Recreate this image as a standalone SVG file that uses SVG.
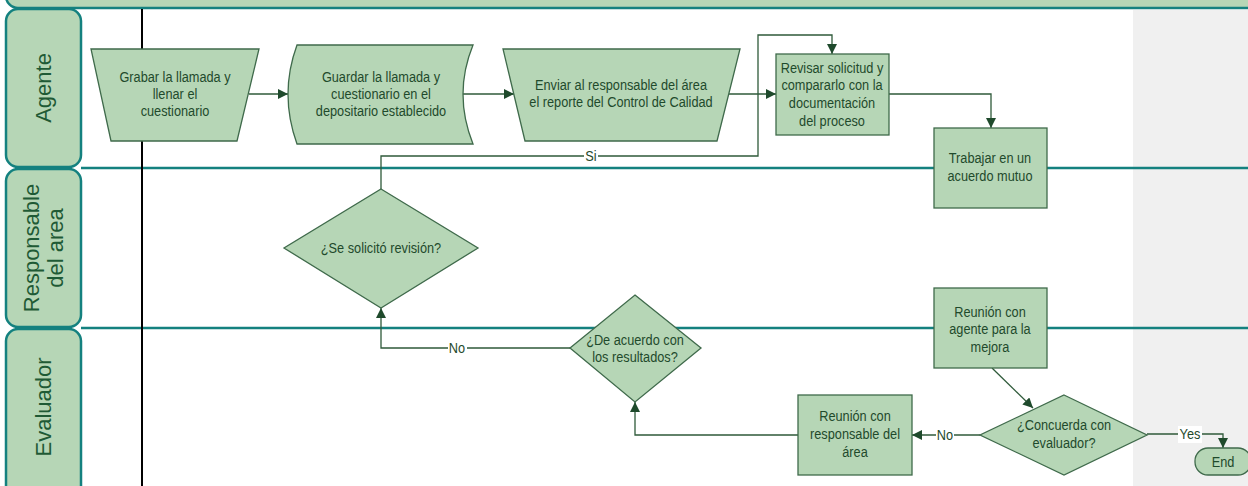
<svg xmlns="http://www.w3.org/2000/svg" width="1248" height="486" viewBox="0 0 1248 486">
<defs>
<style>
.lane{fill:#b6d6b6;stroke:#14817f;stroke-width:2.5}
.lline{stroke:#14817f;stroke-width:2.5;fill:none}
.lt{font-family:"Liberation Sans",Arial,sans-serif;font-size:22px;fill:#1f5a35;text-anchor:middle}
.nd{fill:#b6d6b6;stroke:#3f6a4b;stroke-width:1.3}
.t{font-family:"Liberation Sans",Arial,sans-serif;font-size:15px;fill:#1f4a2c;text-anchor:middle}
.c{fill:none;stroke:#2f5a3a;stroke-width:1.3}
.lb{font-family:"Liberation Sans",Arial,sans-serif;font-size:15px;fill:#1f4a2c;text-anchor:middle}
</style>
<marker id="ah" viewBox="0 0 10 10" refX="10" refY="5" markerWidth="10" markerHeight="10" markerUnits="userSpaceOnUse" orient="auto">
<path d="M0,0 L10,5 L0,10 Z" fill="#1f4a2c"/>
</marker>
</defs>
<rect x="0" y="0" width="1248" height="486" fill="#ffffff"/>
<rect x="1133" y="10" width="115" height="476" fill="#f0f0f0"/>
<g id="lanes">
<rect class="lane" x="6" y="-30" width="1260" height="38" rx="12"/>
<line class="lline" x1="81" y1="168" x2="1248" y2="168"/>
<line class="lline" x1="81" y1="328" x2="1248" y2="328"/>
<rect class="lane" x="6" y="9" width="75" height="158" rx="12"/>
<rect class="lane" x="6" y="169" width="75" height="158" rx="12"/>
<rect class="lane" x="6" y="329" width="75" height="180" rx="12"/>
<text class="lt" transform="translate(51,88) rotate(-90)">Agente</text>
<text class="lt" transform="translate(39,248) rotate(-90)">Responsable</text>
<text class="lt" transform="translate(63,248) rotate(-90)">del area</text>
<text class="lt" transform="translate(51,407) rotate(-90)">Evaluador</text>
<line x1="142" y1="9" x2="142" y2="486" stroke="#000" stroke-width="2"/>
</g>
<g id="connectors">
<line class="c" x1="249" y1="94" x2="288" y2="94" marker-end="url(#ah)"/>
<line class="c" x1="463" y1="94" x2="514" y2="94" marker-end="url(#ah)"/>
<line class="c" x1="729" y1="94" x2="776" y2="94" marker-end="url(#ah)"/>
<polyline class="c" points="381,189 381,156 758,156 758,35 832,35 832,54" marker-end="url(#ah)"/>
<polyline class="c" points="889,94 991,94 991,128" marker-end="url(#ah)"/>
<polyline class="c" points="570,348 381,348 381,308" marker-end="url(#ah)"/>
<polyline class="c" points="798,435 635,435 635,402" marker-end="url(#ah)"/>
<line class="c" x1="992" y1="368" x2="1033" y2="408" marker-end="url(#ah)"/>
<line class="c" x1="980" y1="435" x2="912" y2="435" marker-end="url(#ah)"/>
<polyline class="c" points="1147,434 1223,434 1223,448" marker-end="url(#ah)"/>
<rect x="584" y="148" width="14" height="16" fill="#fff"/>
<text class="lb" x="591" y="161" transform="matrix(0.85 0 0 1 88.65 0)">Si</text>
<rect x="448" y="340" width="19" height="16" fill="#fff"/>
<text class="lb" x="457" y="353" transform="matrix(0.85 0 0 1 68.55 0)">No</text>
<rect x="936" y="427" width="18" height="16" fill="#fff"/>
<text class="lb" x="945" y="440" transform="matrix(0.85 0 0 1 141.75 0)">No</text>
<rect x="1178" y="426" width="24" height="17" fill="#fff"/>
<text class="lb" x="1190" y="439" transform="matrix(0.85 0 0 1 178.5 0)">Yes</text>
</g>
<g id="n1">
<polygon class="nd" points="91,49 259,49 237,141 111,141"/>
<g transform="matrix(0.85 0 0 1 26.25 0)">
<text class="t" x="175" y="82">Grabar la llamada y</text>
<text class="t" x="175" y="99">llenar el</text>
<text class="t" x="175" y="116">cuestionario</text>
</g>
</g>
<g id="n2">
<path class="nd" d="M297,45 L473,45 Q453,94 473,144 L297,144 Q279,94 297,45 Z"/>
<g transform="matrix(0.85 0 0 1 57.15 0)">
<text class="t" x="381" y="82">Guardar la llamada y</text>
<text class="t" x="381" y="99">cuestionario en el</text>
<text class="t" x="381" y="116">depositario establecido</text>
</g>
</g>
<g id="n3">
<polygon class="nd" points="503,49 740,49 717,141 525,141"/>
<g transform="matrix(0.85 0 0 1 93.15 0)">
<text class="t" x="621" y="90">Enviar al responsable del área</text>
<text class="t" x="621" y="107">el reporte del Control de Calidad</text>
</g>
</g>
<g id="n4">
<rect class="nd" x="776" y="54" width="113" height="81"/>
<g transform="matrix(0.85 0 0 1 124.8 0)">
<text class="t" x="832" y="73">Revisar solicitud y</text>
<text class="t" x="832" y="90">compararlo con la</text>
<text class="t" x="832" y="108">documentación</text>
<text class="t" x="832" y="126">del proceso</text>
</g>
</g>
<g id="n5">
<rect class="nd" x="934" y="128" width="113" height="80"/>
<g transform="matrix(0.85 0 0 1 148.5 0)">
<text class="t" x="990" y="163">Trabajar en un</text>
<text class="t" x="990" y="181">acuerdo mutuo</text>
</g>
</g>
<g id="n6">
<polygon class="nd" points="381,189 478,248 381,308 284,248"/>
<g transform="matrix(0.85 0 0 1 57.15 0)">
<text class="t" x="381" y="253">¿Se solicitó revisión?</text>
</g>
</g>
<g id="n7">
<polygon class="nd" points="635,295 701,348 635,402 570,348"/>
<g transform="matrix(0.85 0 0 1 95.25 0)">
<text class="t" x="635" y="345">¿De acuerdo con</text>
<text class="t" x="635" y="362">los resultados?</text>
</g>
</g>
<g id="n8">
<rect class="nd" x="934" y="288" width="113" height="80"/>
<g transform="matrix(0.85 0 0 1 148.5 0)">
<text class="t" x="990" y="317">Reunión con</text>
<text class="t" x="990" y="334">agente para la</text>
<text class="t" x="990" y="352">mejora</text>
</g>
</g>
<g id="n9">
<polygon class="nd" points="1064,395 1147,435 1064,475 980,435"/>
<g transform="matrix(0.85 0 0 1 159.6 0)">
<text class="t" x="1064" y="430">¿Concuerda con</text>
<text class="t" x="1064" y="448">evaluador?</text>
</g>
</g>
<g id="n10">
<rect class="nd" x="798" y="395" width="114" height="80"/>
<g transform="matrix(0.85 0 0 1 128.25 0)">
<text class="t" x="855" y="421">Reunión con</text>
<text class="t" x="855" y="439">responsable del</text>
<text class="t" x="855" y="457">área</text>
</g>
</g>
<g id="n11">
<rect class="nd" x="1195" y="448" width="56" height="27" rx="13"/>
<g transform="matrix(0.85 0 0 1 183.45 0)">
<text class="t" x="1223" y="467">End</text>
</g>
</g>
</svg>
